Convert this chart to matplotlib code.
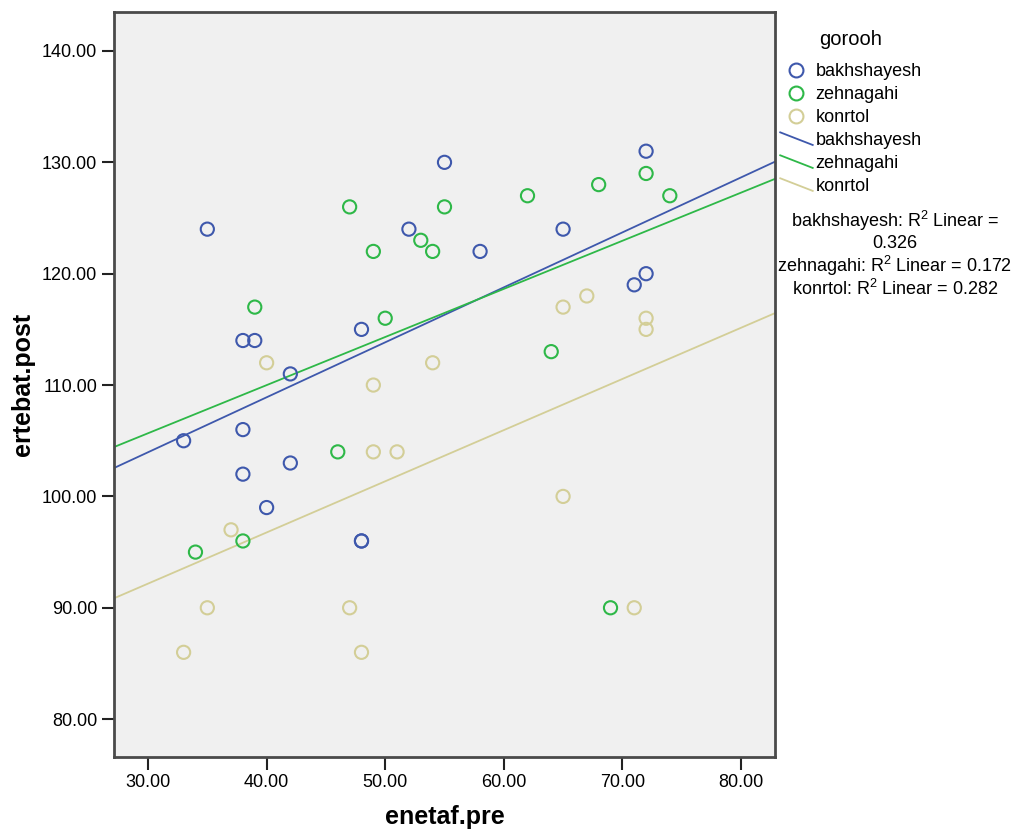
import numpy as np
import matplotlib
matplotlib.use("Agg")
import matplotlib.pyplot as plt
from matplotlib.lines import Line2D
from matplotlib.legend_handler import HandlerBase

plt.rcParams['font.family'] = ['Liberation Sans', 'DejaVu Sans']
plt.rcParams['mathtext.fontset'] = 'custom'
plt.rcParams['mathtext.rm'] = 'Liberation Sans'
plt.rcParams['mathtext.it'] = 'Liberation Sans'

# gorooh = bakhshayesh
bakh_x = [35, 33, 38, 39, 38, 38, 42, 42, 40, 48, 48, 48, 55, 52, 58, 65, 72, 72, 71]
bakh_y = [124, 105, 114, 114, 106, 102, 111, 103, 99, 115, 96, 96, 130, 124, 122, 124, 131, 120, 119]
# gorooh = zehnagahi
zeh_x = [47, 49, 53, 54, 55, 39, 50, 62, 68, 72, 74, 64, 46, 34, 38, 69]
zeh_y = [126, 122, 123, 122, 126, 117, 116, 127, 128, 129, 127, 113, 104, 95, 96, 90]
# gorooh = konrtol
kon_x = [40, 49, 54, 49, 51, 37, 35, 33, 47, 48, 65, 67, 72, 72, 65, 71]
kon_y = [112, 110, 112, 104, 104, 97, 90, 86, 90, 86, 117, 118, 116, 115, 100, 90]

groups = ["bakhshayesh", "zehnagahi", "konrtol"]
r2_vals = ["0.326", "0.172", "0.282"]
colors = ["#3E58AC", "#2EB848", "#D3CE97"]
xs = [bakh_x, zeh_x, kon_x]
ys = [bakh_y, zeh_y, kon_y]
xticks = [30, 40, 50, 60, 70, 80]
yticks = [80, 90, 100, 110, 120, 130, 140]
xlim = (27.13, 82.87)
ylim = (76.6, 143.5)


class DiagLine(HandlerBase):
    # diagonal line in the legend, like SPSS
    def create_artists(self, legend, orig_handle, xdescent, ydescent, width, height, fontsize, trans):
        l = Line2D([-xdescent, -xdescent + width], [-ydescent + height, -ydescent],
                   color=orig_handle.get_color(), lw=orig_handle.get_linewidth(), transform=trans)
        return [l]


fig = plt.figure(figsize=(10.18, 8.31), dpi=100)
ax = fig.add_axes([114/1018, 74/831, 661/1018, 745/831])
ax.set_facecolor("#F0F0F0")

pt_handles = []
ln_handles = []
for g, c, x, y in zip(groups, colors, xs, ys):
    ax.scatter(x, y, s=90, facecolors="none", edgecolors=c, linewidths=1.5, zorder=3)
    pt_handles.append(Line2D([], [], ls="none", marker="o", ms=10, mfc="none", mec=c, mew=1.5))
    b, a = np.polyfit(x, y, 1)
    xx = np.array(xlim)
    ax.plot(xx, a + b*xx, color=c, lw=1.3, zorder=2)
    ln_handles.append(Line2D([], [], color=c, lw=1.3))

ax.set_xlim(xlim)
ax.set_ylim(ylim)
ax.set_xticks(xticks)
ax.set_yticks(yticks)
ax.set_xticklabels(["%.2f" % v for v in xticks])
ax.set_yticklabels(["%.2f" % v for v in yticks])
ax.tick_params(direction="out", length=9, width=1.5, color="#222222", labelsize=13, pad=3)
for s in ax.spines.values():
    s.set_linewidth(2)
    s.set_color("#4a4a4a")
ax.set_xlabel("enetaf.pre", fontsize=18, fontweight="bold", labelpad=10)
ax.set_ylabel("ertebat.post", fontsize=18, fontweight="bold", labelpad=5)

leg = fig.legend(pt_handles + ln_handles, groups + groups, loc="upper left",
                 bbox_to_anchor=(773/1018, 808/831), frameon=False, fontsize=13,
                 title="gorooh", title_fontsize=14.5, handlelength=1.8, handletextpad=0.15,
                 labelspacing=0.33, borderaxespad=0,
                 handler_map={ln_handles[0]: DiagLine(), ln_handles[1]: DiagLine(), ln_handles[2]: DiagLine()})
leg._legend_box.sep = 10

r2_lines = ["%s: R$^2$ Linear =" % groups[0], r2_vals[0],
            "%s: R$^2$ Linear = %s" % (groups[1], r2_vals[1]),
            "%s: R$^2$ Linear = %s" % (groups[2], r2_vals[2])]
for i, t in enumerate(r2_lines):
    fig.text(895/1018, (831 - 221 - 22.7*i)/831, t, ha="center", va="center", fontsize=13)

fig.savefig("out.png", dpi=100)
